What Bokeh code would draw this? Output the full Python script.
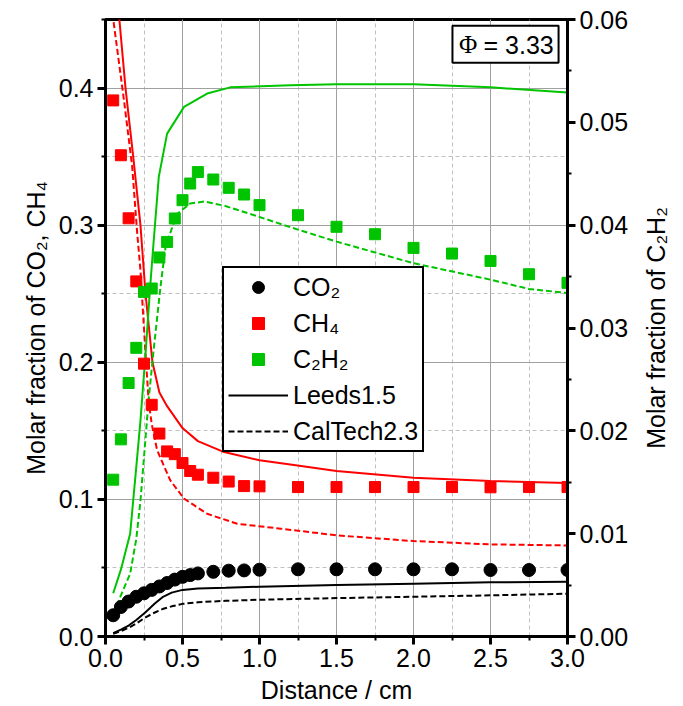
import math
from bokeh.plotting import figure
from bokeh.models import (Range1d, LinearAxis, SingleIntervalTicker, NumeralTickFormatter,
                          Legend, LegendItem, Label, BoxAnnotation)
from bokeh.embed import file_html
from bokeh.resources import INLINE

# ---------------- data ----------------
x_meas = [0.05, 0.1, 0.15, 0.2, 0.25, 0.3, 0.35, 0.4, 0.45, 0.5, 0.55, 0.6, 0.7, 0.8, 0.9, 1.0,
          1.25, 1.5, 1.75, 2.0, 2.25, 2.5, 2.75, 3.0]
co2_meas = [0.0155, 0.0215, 0.0255, 0.029, 0.0315, 0.034, 0.0365, 0.039, 0.0415, 0.0435, 0.0448,
            0.046, 0.0472, 0.048, 0.0482, 0.0487, 0.049, 0.049, 0.049, 0.049, 0.049, 0.0485,
            0.0485, 0.0485]
ch4_meas = [0.391, 0.351, 0.305, 0.259, 0.199, 0.169, 0.148, 0.135, 0.133, 0.1265, 0.1207, 0.118,
            0.1158, 0.113, 0.1097, 0.1095, 0.109, 0.109, 0.109, 0.109, 0.109, 0.1088, 0.109, 0.109]
c2h2_meas = [0.01525, 0.01917, 0.02465, 0.02807, 0.03351, 0.03384, 0.03686, 0.03837, 0.04065,
             0.04243, 0.04405, 0.04516, 0.04444, 0.04363, 0.04298, 0.04195, 0.04097, 0.03984,
             0.03912, 0.03779, 0.03724, 0.03652, 0.03523, 0.03439]

# Leeds1.5 model (solid)
x_ch4_leeds = [0.0, 0.05, 0.09, 0.13, 0.18, 0.227, 0.26, 0.305, 0.35, 0.4, 0.5, 0.6, 0.77, 1.0,
               1.2, 1.5, 2.0, 2.5, 3.0]
ch4_leeds = [0.58, 0.51, 0.45, 0.40, 0.35, 0.30, 0.25, 0.20, 0.178, 0.168, 0.152, 0.1425, 0.1345,
             0.1285, 0.1255, 0.1207, 0.1158, 0.1134, 0.1119]
x_co2_model = [0.05, 0.1, 0.15, 0.2, 0.26, 0.32, 0.37, 0.43, 0.5, 0.6, 0.78, 1.0, 1.5, 2.0, 2.5, 3.0]
co2_leeds = [0.0025, 0.005, 0.008, 0.012, 0.0177, 0.024, 0.0287, 0.032, 0.034, 0.035, 0.0355,
             0.0363, 0.0375, 0.0385, 0.0395, 0.040]
x_c2h2_leeds = [0.05, 0.1, 0.16, 0.2, 0.227, 0.26, 0.29, 0.31, 0.346, 0.4, 0.51, 0.66, 0.81, 1.2,
                1.5, 2.0, 2.5, 3.0]
c2h2_leeds = [0.0042, 0.0065, 0.010, 0.0165, 0.0210, 0.0275, 0.034, 0.0379, 0.0447, 0.0489,
              0.0515, 0.0528, 0.0534, 0.0536, 0.0537, 0.0537, 0.0534, 0.0529]

# CalTech2.3 model (dashed)
x_ch4_caltech = [0.0, 0.054, 0.12, 0.173, 0.206, 0.227, 0.26, 0.28, 0.3, 0.335, 0.42, 0.51, 0.66,
                 0.855, 1.14, 1.51, 2.0, 2.5, 3.0]
ch4_caltech = [0.52, 0.447, 0.391, 0.343, 0.294, 0.267, 0.206, 0.172, 0.155, 0.136, 0.114, 0.1005,
               0.0895, 0.0822, 0.0786, 0.0737, 0.0696, 0.0672, 0.0664]
co2_caltech = [0.002, 0.004, 0.0063, 0.0095, 0.014, 0.0175, 0.020, 0.022, 0.0238, 0.025, 0.026,
               0.0268, 0.028, 0.029, 0.030, 0.0312]
x_c2h2_caltech = [0.05, 0.1, 0.16, 0.2, 0.227, 0.28, 0.31, 0.357, 0.39, 0.41, 0.465, 0.55, 0.64,
                  0.77, 1.0, 1.2, 1.5, 2.0, 2.5, 2.75, 3.0]
c2h2_caltech = [0.0022, 0.004, 0.0061, 0.0095, 0.0132, 0.023, 0.0275, 0.034, 0.0379, 0.0388,
                0.0411, 0.0421, 0.0423, 0.0419, 0.0408, 0.0398, 0.0384, 0.0363, 0.0347, 0.0338,
                0.0334]

series_labels = ["CO\u2082", "CH\u2084", "C\u2082H\u2082", "Leeds1.5", "CalTech2.3"]
phi_text = ["\u03a6", "= 3.33"]
right_axis_title = "Molar fraction of C\u2082H\u2082"

# ---------------- style ----------------
FONT = "Liberation Sans"
FS = "25px"
RED = "#ff0000"
GREEN = "#00c400"
BLACK = "#000000"
DASH = "6 3"

p = figure(width=683, height=706, output_backend="svg", toolbar_location=None,
           x_range=Range1d(0, 3.0), y_range=Range1d(0, 0.45),
           min_border_left=105, min_border_right=116, min_border_top=19, min_border_bottom=70)
p.extra_y_ranges = {"c2h2": Range1d(0, 0.06)}
p.background_fill_color = "white"
p.border_fill_color = "white"
p.outline_line_color = "black"
p.outline_line_width = 3

right = LinearAxis(y_range_name="c2h2")
p.add_layout(right, "right")

p.xaxis.ticker = SingleIntervalTicker(interval=0.5, num_minor_ticks=2)
p.yaxis[0].ticker = SingleIntervalTicker(interval=0.1, num_minor_ticks=2)
right.ticker = SingleIntervalTicker(interval=0.01, num_minor_ticks=2)
p.xaxis.formatter = NumeralTickFormatter(format="0.0")
p.yaxis[0].formatter = NumeralTickFormatter(format="0.0")
right.formatter = NumeralTickFormatter(format="0.00")

p.xaxis.axis_label = "Distance / cm"
p.yaxis[0].axis_label = "Molar fraction of CO\u2082, CH\u2084"

for ax in [p.xaxis[0], p.yaxis[0], right]:
    ax.axis_line_width = 3
    ax.axis_line_color = "black"
    ax.major_tick_line_width = 3
    ax.minor_tick_line_width = 2
    ax.major_tick_out = 8
    ax.major_tick_in = 0
    ax.minor_tick_out = 4
    ax.minor_tick_in = 0
    ax.major_label_text_font = FONT
    ax.major_label_text_font_size = FS
    ax.major_label_text_color = "black"
    ax.axis_label_text_font = FONT
    ax.axis_label_text_font_size = FS
    ax.axis_label_text_font_style = "normal"
    ax.axis_label_text_color = "black"
    ax.major_label_standoff = 4
    ax.axis_label_standoff = 6

p.xgrid.grid_line_color = "#a0a0a0"
p.ygrid.grid_line_color = "#a0a0a0"
p.xgrid.minor_grid_line_color = "#c0c0c0"
p.ygrid.minor_grid_line_color = "#c0c0c0"
p.xgrid.minor_grid_line_dash = "4 3"
p.ygrid.minor_grid_line_dash = "4 3"

# ---------------- model lines ----------------
p.line(x_ch4_leeds, ch4_leeds, line_color=RED, line_width=2)
p.line(x_ch4_caltech, ch4_caltech, line_color=RED, line_width=2, line_dash=DASH)
r_leeds = p.line(x_co2_model, co2_leeds, line_color=BLACK, line_width=2)
r_caltech = p.line(x_co2_model, co2_caltech, line_color=BLACK, line_width=2, line_dash=DASH)
p.line(x_c2h2_leeds, c2h2_leeds, line_color=GREEN, line_width=2, y_range_name="c2h2")
p.line(x_c2h2_caltech, c2h2_caltech, line_color=GREEN, line_width=2, line_dash=DASH,
       y_range_name="c2h2")

# ---------------- measurements ----------------
r_co2 = p.scatter(x_meas, co2_meas, marker="circle", size=13, fill_color=BLACK, line_color=BLACK)
r_ch4 = p.scatter(x_meas, ch4_meas, marker="square", size=11, fill_color=RED, line_color=RED)
r_c2h2 = p.scatter(x_meas, c2h2_meas, marker="square", size=11, fill_color=GREEN, line_color=GREEN,
                   y_range_name="c2h2")

legend = Legend(items=[
    LegendItem(label=series_labels[0], renderers=[r_co2]),
    LegendItem(label=series_labels[1], renderers=[r_ch4]),
    LegendItem(label=series_labels[2], renderers=[r_c2h2]),
    LegendItem(label=series_labels[3], renderers=[r_leeds]),
    LegendItem(label=series_labels[4], renderers=[r_caltech]),
], location=(117, 184))
legend.label_text_font = FONT
legend.label_text_font_size = FS
legend.label_text_color = "black"
legend.glyph_width = 60
legend.glyph_height = 30
legend.label_height = 30
legend.spacing = 6
legend.padding = 4
legend.margin = 0
legend.label_standoff = 5
legend.border_line_color = "black"
legend.border_line_alpha = 1.0
legend.border_line_width = 2
legend.background_fill_alpha = 1.0
p.add_layout(legend, "center")

# ---------------- right axis title (reads bottom-to-top), placed in the right panel ----------------
p.add_layout(Label(x=3.575, y=0.225, text=right_axis_title, angle=math.pi / 2,
                   text_font=FONT, text_font_size=FS, text_align="center",
                   text_baseline="middle", text_color="black"), "right")

# ---------------- Phi annotation ----------------
box = BoxAnnotation(left=2.253, right=2.942, top=0.4455, bottom=0.4185,
                    fill_color="white", fill_alpha=1.0, line_color="black", line_width=2,
                    line_alpha=1.0)
p.add_layout(box)
p.add_layout(Label(x=2.295, y=0.4315, text=phi_text[0], text_font="Liberation Serif",
                   text_font_size=FS, text_baseline="middle", text_color="black"))
p.add_layout(Label(x=2.455, y=0.4315, text=phi_text[1], text_font=FONT,
                   text_font_size=FS, text_baseline="middle", text_color="black"))

open("out.html", "w").write(file_html(p, INLINE))
